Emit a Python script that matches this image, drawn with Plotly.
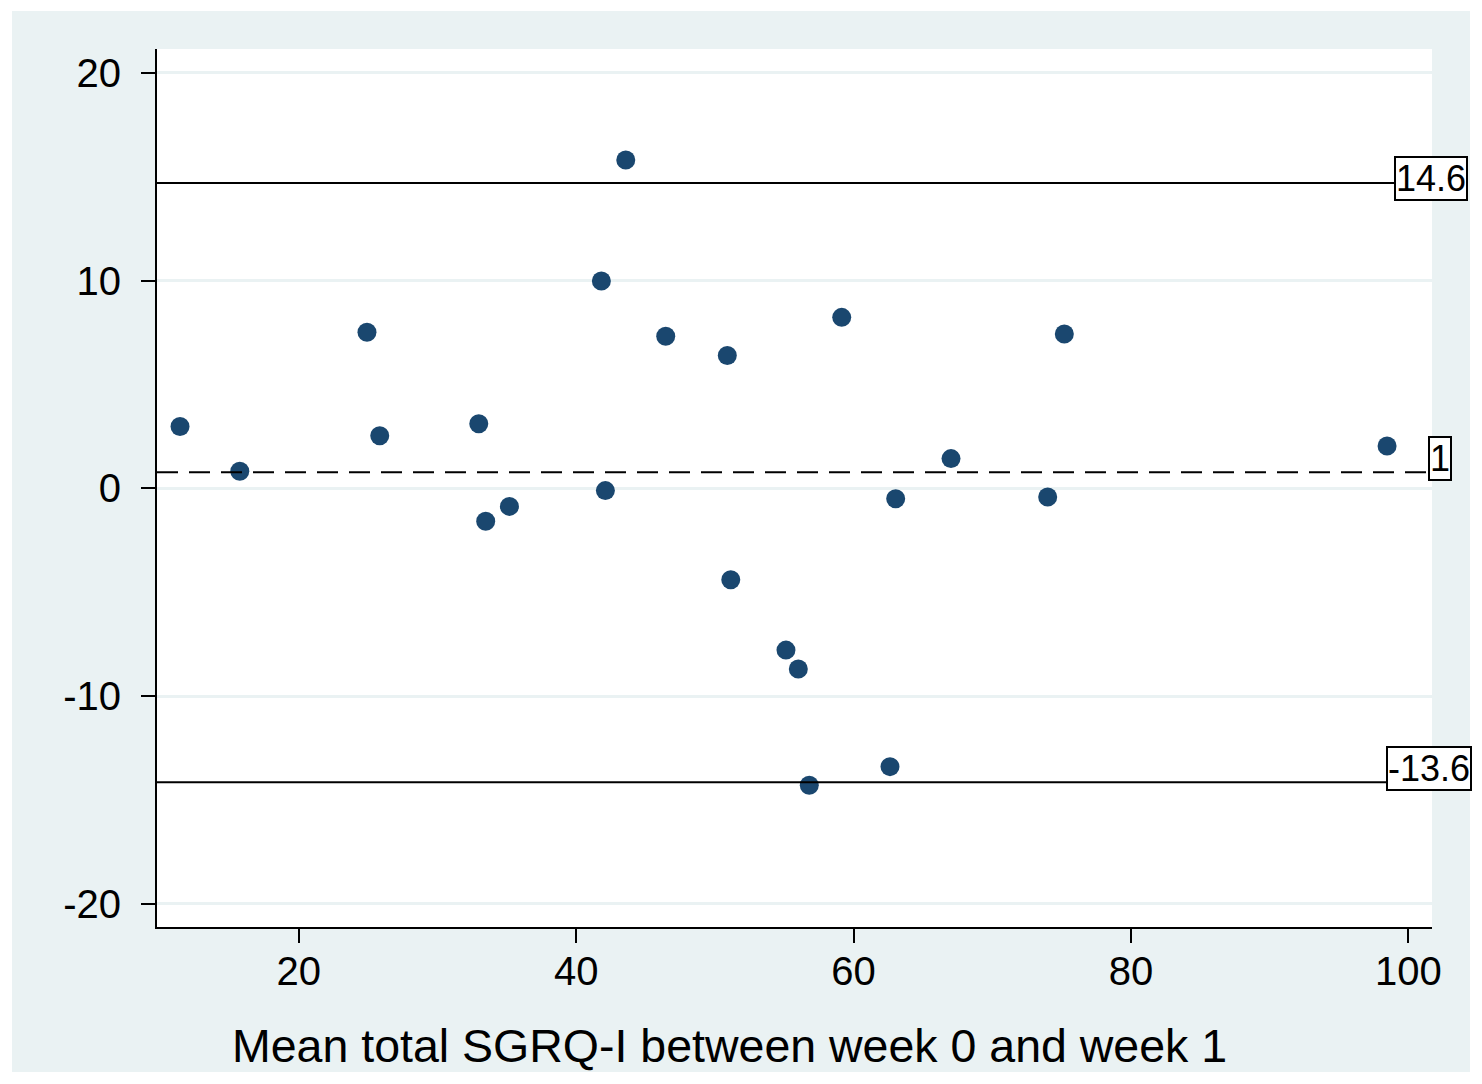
import plotly.graph_objects as go

# Data
mean_sgrq = [11.44, 15.75, 24.92, 25.84, 32.98, 33.48, 35.19, 41.82, 42.11, 43.58,
             46.46, 50.90, 51.15, 55.13, 56.02, 56.81, 59.15, 62.63, 63.04, 67.03,
             74.00, 75.20, 98.47]
diff_sgrq = [2.98, 0.82, 7.51, 2.53, 3.11, -1.59, -0.87, 9.98, -0.11, 15.81,
             7.32, 6.39, -4.40, -7.79, -8.70, -14.30, 8.23, -13.40, -0.50, 1.43,
             -0.42, 7.43, 2.04]

line_values = [14.7, 0.77, -14.15]          # upper limit, mean, lower limit (as drawn)
line_labels = ["14.6", "1", "-13.6"]
line_dashes = ["solid", "21px,11px", "solid"]

x_ticks = [20, 40, 60, 80, 100]
x_tick_text = ["20", "40", "60", "80", "100"]
y_ticks = [-20, -10, 0, 10, 20]
y_tick_text = ["-20", "-10", "0", "10", "20"]
x_title = "Mean total SGRQ-I between week 0 and week 1"

FONT = "Liberation Sans, Arial, Helvetica, sans-serif"
OFF = 8  # page body margin
W, H = 1482 - 2 * OFF, 1084 - 2 * OFF
L, T = 157 - OFF, 49 - OFF
R = W - (1432 - OFF)
B = H - (927 - OFF)
x_range = [9.78, 101.71]
y_range = [-21.12, 21.15]

# label box placement (layout, in reference pixels)
label_right_px = [1468, 1452, 1472]
label_center_py = [178, 458, 768]

fig = go.Figure()

fig.add_trace(go.Scatter(
    x=mean_sgrq, y=diff_sgrq, mode="markers",
    marker=dict(size=19, color="#1A476F", line=dict(width=0)),
    showlegend=False, hoverinfo="x+y"))

pw = W - L - R
ph = H - T - B

def px2paper_x(px):
    return (px - OFF - L) / pw

def px2paper_y(py):
    return (H - B - (py - OFF)) / ph

# light blue graph region
fig.add_shape(type="rect", xref="paper", yref="paper", layer="below",
              x0=px2paper_x(12), x1=px2paper_x(1470),
              y0=px2paper_y(1072), y1=px2paper_y(11),
              fillcolor="#EAF2F3", line=dict(width=0))
# white plot region
fig.add_shape(type="rect", xref="paper", yref="paper", layer="below",
              x0=0, x1=1, y0=0, y1=1, fillcolor="white", line=dict(width=0))

for val, lab, dash, rpx, cpy in zip(line_values, line_labels, line_dashes,
                                    label_right_px, label_center_py):
    fig.add_shape(type="line", xref="paper", yref="y", x0=0, x1=1, y0=val, y1=val,
                  line=dict(color="black", width=2, dash=dash), layer="above")
    fig.add_annotation(x=px2paper_x(rpx), xref="paper", y=px2paper_y(cpy), yref="paper",
                       text=lab, showarrow=False, xanchor="right", yanchor="middle",
                       font=dict(family=FONT, size=36, color="black"),
                       bgcolor="white", bordercolor="black", borderwidth=2, borderpad=0)

fig.add_annotation(x=px2paper_x(729.5), xref="paper", y=px2paper_y(1046), yref="paper",
                   text=x_title, showarrow=False, xanchor="center", yanchor="middle",
                   font=dict(family=FONT, size=46.5, color="black"))

fig.update_layout(
    width=W, height=H,
    margin=dict(l=L, r=R, t=T, b=B, pad=0),
    paper_bgcolor="white", plot_bgcolor="rgba(0,0,0,0)",
    font=dict(family=FONT, color="black"),
    xaxis=dict(range=x_range, tickvals=x_ticks, ticktext=x_tick_text, ticks="outside",
               ticklen=14, tickwidth=2,
               tickcolor="black", showline=True, linecolor="black", linewidth=2,
               showgrid=False, zeroline=False, tickfont=dict(size=40, family=FONT),
               ticklabelstandoff=-6, mirror=False),
    yaxis=dict(range=y_range, tickvals=y_ticks, ticktext=y_tick_text, ticks="outside",
               ticklen=14, tickwidth=2,
               tickcolor="black", showline=True, linecolor="black", linewidth=2,
               showgrid=True, gridcolor="#EAF2F3", gridwidth=3, zeroline=False,
               tickfont=dict(size=40, family=FONT), ticklabelstandoff=12),
)

fig.write_html("out.html")
